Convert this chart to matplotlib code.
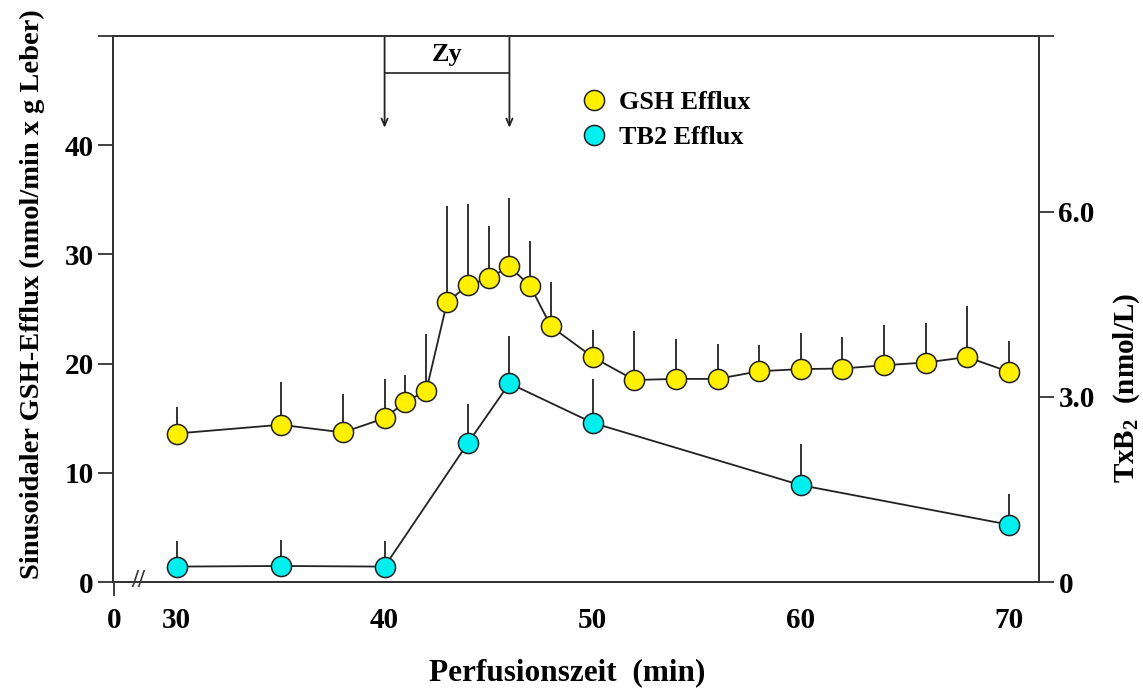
import numpy as np
import matplotlib
matplotlib.use('Agg')
import matplotlib.pyplot as plt
from matplotlib.lines import Line2D

plt.rcParams['font.family'] = ['Liberation Serif', 'DejaVu Serif']
plt.rcParams['font.weight'] = 'bold'
plt.rcParams['mathtext.fontset'] = 'custom'
plt.rcParams['mathtext.rm'] = 'Liberation Serif:bold'
plt.rcParams['mathtext.bf'] = 'Liberation Serif:bold'

# GSH efflux (left axis, nmol/min x g Leber)
gsh_time = [30, 35, 38, 40, 41, 42, 43, 44, 45, 46, 47, 48, 50, 52, 54, 56, 58, 60, 62, 64, 66, 68, 70]
gsh_mean = [13.6, 14.4, 13.7, 15.0, 16.5, 17.5, 25.6, 27.2, 27.8, 28.9, 27.1, 23.4, 20.6, 18.5, 18.6, 18.6,
            19.3, 19.5, 19.55, 19.85, 20.1, 20.6, 19.25]
gsh_top = [16.0, 18.3, 17.2, 18.6, 19.0, 22.7, 34.4, 34.6, 32.6, 35.2, 31.2, 27.5, 23.1, 23.0, 22.3, 21.8,
           21.7, 22.8, 22.4, 23.5, 23.7, 25.3, 22.1]

# TxB2 efflux (right axis, nmol/L)
tb2_time = [30, 35, 40, 44, 46, 50, 60, 70]
tb2_mean = [0.25, 0.26, 0.25, 2.25, 3.22, 2.58, 1.57, 0.93]
tb2_top = [0.66, 0.68, 0.66, 2.89, 3.99, 3.29, 2.24, 1.42]

left_ticks = [0, 10, 20, 30, 40, 50]
left_labels = ['0', '10', '20', '30', '40', '']
right_ticks = [0, 3.0, 6.0]
right_labels = ['0', '3.0', '6.0']
x_ticks = [27, 30, 40, 50, 60, 70]
x_labels = ['0', '30', '40', '50', '60', '70']

yellow = '#FFF000'
cyan = '#00F0F0'
spine_col = '#333333'
k_scale = 5.65  # left-axis units per nmol/L

fig = plt.figure(figsize=(11.43, 6.9), dpi=100)
ax = fig.add_axes([0.0989, 0.1565, 0.8101, 0.7913])
ax2 = ax.twinx()

ax.set_xlim(26.95, 71.45)
ax.set_ylim(0, 50)
ax2.set_ylim(0, 50 / k_scale)

for a in (ax, ax2):
    for s in a.spines.values():
        s.set_color(spine_col)
        s.set_linewidth(1.4)
    a.set_zorder(1)
ax.patch.set_visible(False)

# GSH series
gsh_err = [np.zeros(len(gsh_mean)), np.array(gsh_top) - np.array(gsh_mean)]
ax.errorbar(gsh_time, gsh_mean, yerr=gsh_err, fmt='none', ecolor='#222222', elinewidth=1.3,
            capsize=0, zorder=2)
ax.plot(gsh_time, gsh_mean, '-', color='#222222', lw=1.3, zorder=3)
ax.plot(gsh_time, gsh_mean, 'o', ms=14.5, mfc=yellow, mec='#222222', mew=1.1, zorder=4,
        clip_on=False)

# TB2 series
tb2_err = [np.zeros(len(tb2_mean)), np.array(tb2_top) - np.array(tb2_mean)]
ax2.errorbar(tb2_time, tb2_mean, yerr=tb2_err, fmt='none', ecolor='#222222', elinewidth=1.3,
             capsize=0, zorder=2)
ax2.plot(tb2_time, tb2_mean, '-', color='#222222', lw=1.3, zorder=3)
ax2.plot(tb2_time, tb2_mean, 'o', ms=14.5, mfc=cyan, mec='#222222', mew=1.1, zorder=4,
         clip_on=False)

# ticks
ax.set_yticks(left_ticks)
ax.set_yticklabels(left_labels)
ax.tick_params(axis='y', direction='out', length=11, width=1.3, color=spine_col, pad=3,
               labelsize=21)
ax2.set_yticks(right_ticks + [50 / k_scale])
ax2.set_yticklabels(right_labels + [''])
ax2.tick_params(axis='y', direction='out', length=11, width=1.3, color=spine_col, pad=3,
                labelsize=21)
ax.set_xticks(x_ticks)
ax.set_xticklabels(x_labels)
ax.tick_params(axis='x', direction='out', length=10, width=1.3, color=spine_col, pad=8,
               labelsize=21)
for t in ax.xaxis.get_major_ticks()[1:]:
    t.tick1line.set_visible(False)
for lab in ax.get_xticklabels() + ax.get_yticklabels() + ax2.get_yticklabels():
    lab.set_fontweight('bold')

# axis break
ax.text(28.15, 0.1, '//', ha='center', va='center', fontsize=18, fontweight='bold',
        color=spine_col, clip_on=False, zorder=5)

# labels
ax.set_xlabel('Perfusionszeit  (min)', fontsize=22.5, fontweight='bold')
ax.xaxis.set_label_coords(0.49, -0.166)
ax.xaxis.label.set_va('center')
ax.set_ylabel('Sinusoidaler GSH-Efflux (nmol/min x g Leber)', fontsize=20.5, fontweight='bold')
ax.yaxis.set_label_coords(-0.0875, 0.527)
ax.yaxis.label.set_va('center')
ax2.set_ylabel('TxB$_\\mathbf{2}$  (nmol/L)', fontsize=21, fontweight='bold')
ax2.yaxis.set_label_coords(1.095, 0.355)
ax2.yaxis.label.set_va('center')

# Zy stimulation bracket
zy_start, zy_end = 40, 46
ax.plot([zy_start, zy_end], [46.6, 46.6], color='#222222', lw=1.2, zorder=3)
for xz in (zy_start, zy_end):
    ax.annotate('', xy=(xz, 41.6), xytext=(xz, 50),
                arrowprops=dict(arrowstyle='->,head_length=0.5,head_width=0.22', color='#222222',
                                lw=1.3, shrinkA=0, shrinkB=0))
ax.text((zy_start + zy_end) / 2, 48.3, 'Zy', ha='center', va='center', fontsize=19,
        fontweight='bold')

# legend
handles = [Line2D([], [], ls='none', marker='o', ms=14.5, mfc=yellow, mec='#222222', mew=1.1),
           Line2D([], [], ls='none', marker='o', ms=14.5, mfc=cyan, mec='#222222', mew=1.1)]
leg = ax.legend(handles, ['GSH Efflux', 'TB2 Efflux'], loc='upper left',
                bbox_to_anchor=(0.507, 0.899), frameon=False, fontsize=18.8, handlelength=0.9,
                handletextpad=0.5, borderpad=0, borderaxespad=0, labelspacing=0.42)
for txt in leg.get_texts():
    txt.set_fontweight('bold')

fig.savefig('out.png', dpi=100)
